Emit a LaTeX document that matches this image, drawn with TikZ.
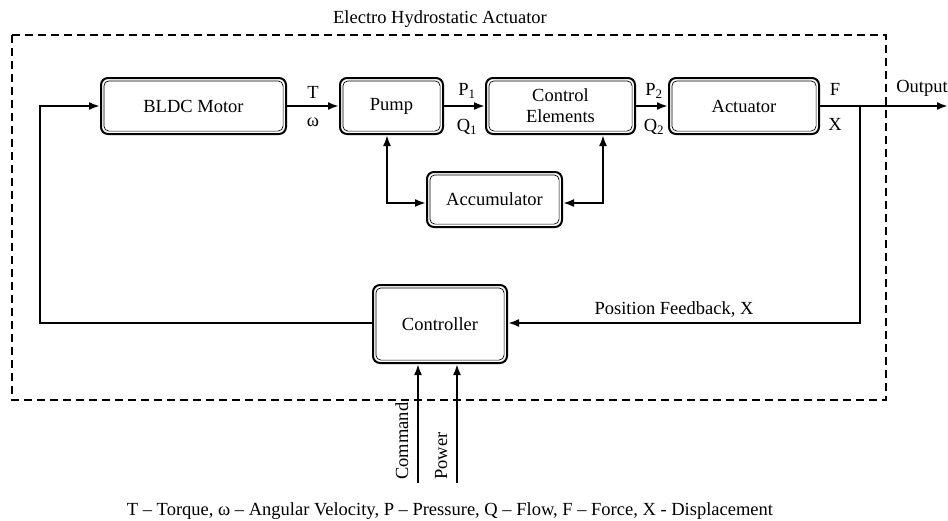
\documentclass[tikz,border=0pt]{standalone}
\usepackage{fontspec}
\setmainfont{Liberation Serif}
\usetikzlibrary{arrows.meta,calc}
\begin{document}
\begin{tikzpicture}[x=1pt,y=-1pt,
  blk/.style={draw, line width=2pt, rounded corners=7pt, fill=white, inner sep=0pt,
    font=\fontsize{18.5}{22}\selectfont, align=center,
    path picture={\draw[line width=0.7pt, rounded corners=5pt]
      ([shift={(2.9pt,2.9pt)}]path picture bounding box.south west) rectangle
      ([shift={(-2.9pt,-2.9pt)}]path picture bounding box.north east);}},
  tip/.tip={Latex[length=11pt,width=8pt]},
  conn/.style={line width=2.1pt, -tip},
  bconn/.style={line width=2.1pt, tip-tip},
  lbl/.style={font=\fontsize{18.5}{22}\selectfont, inner sep=0pt}]
\useasboundingbox (0,0) rectangle (948,520);
% enclosing dashed box
\draw[line width=1.7pt, dash pattern=on 8pt off 5pt] (12,35) rectangle (886,400);
\node[lbl] (title) at (440,19) {Electro Hydrostatic Actuator};
% blocks
\node[blk, minimum width=185pt, minimum height=56pt] (bldc) at (193.5,106) {BLDC Motor};
\node[blk, minimum width=103pt, minimum height=56pt] (pump) at (391.5,106) {Pump};
\node[blk, minimum width=149pt, minimum height=56pt] (ctrl) at (560.5,106) {Control\\[-1pt]Elements};
\node[blk, minimum width=150pt, minimum height=56pt] (act) at (744,106) {Actuator};
\node[blk, minimum width=135pt, minimum height=55pt] (acc) at (494.5,199.5) {Accumulator};
\node[blk, minimum width=134pt, minimum height=78pt] (con) at (440,324) {Controller};
% forward chain
\draw[conn] (bldc.east) -- (pump.west);
\draw[conn] (pump.east) -- (ctrl.west);
\draw[conn] (ctrl.east) -- (act.west);
\coordinate (out) at (948,106);
\draw[conn] (act.east) -- (out);
\node[lbl] (T) at (313,92) {T};
\node[lbl] (w) at (313,122) {ω};
\node[lbl] (P1) at (467,91) {P\textsubscript{1}};
\node[lbl] (Q1) at (467,127) {Q\textsubscript{1}};
\node[lbl] (P2) at (654,91) {P\textsubscript{2}};
\node[lbl] (Q2) at (654,127) {Q\textsubscript{2}};
\node[lbl] (F) at (835,89) {F};
\node[lbl] (X) at (835,124) {X};
\node[lbl] (outl) at (922,88) {Output};
% accumulator links
\coordinate (pb) at ($(pump.south)+(-4.5,0)$);
\coordinate (cb) at ($(ctrl.south)+(42.5,0)$);
\draw[bconn] (pb) |- (acc.west |- 0,203);
\draw[bconn] (cb) |- (acc.east |- 0,203);
% feedback
\coordinate (br) at (860,106);
\draw[conn] (br) -- (860,323) -- (con.east |- 0,323);
\node[lbl] (fb) at (674,309) {Position Feedback, X};
\coordinate (lc) at (40,323);
\draw[conn] (con.west |- 0,323) -- (lc) |- (bldc.west);
% inputs
\coordinate (cmd) at (418,483);
\coordinate (pwr) at (457,483);
\draw[conn] (cmd) -- (cmd |- con.south);
\draw[conn] (pwr) -- (pwr |- con.south);
\node[lbl, rotate=90, anchor=base west] (cmdl) at (408,480) {Command};
\node[lbl, rotate=90, anchor=base west] (pwrl) at (447,480) {Power};
% legend
\node[lbl] (leg) at (450,511) {T – Torque, ω – Angular Velocity, P – Pressure, Q – Flow, F – Force, X - Displacement};
\end{tikzpicture}
\end{document}
